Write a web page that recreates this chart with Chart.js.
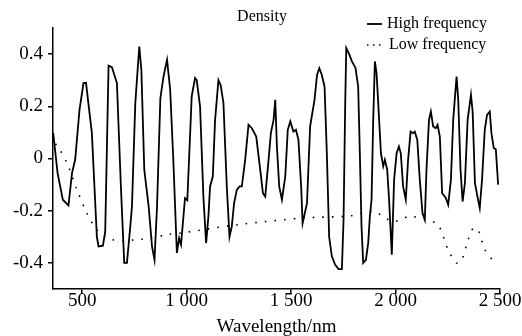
<!DOCTYPE html>
<html>
<head>
<meta charset="utf-8">
<title>Density</title>
<script src="https://cdn.jsdelivr.net/npm/chart.js@4.4.1/dist/chart.umd.min.js"></script>
<style>
  html, body { margin: 0; padding: 0; background: #fff; }
  canvas { display: block; }
</style>
</head>
<body>
<canvas id="myChart" width="522" height="336"></canvas>
<script>
// 데이터 ====================================
const chartTitle = "Density";
const xTitle = "Wavelength/nm";

// High frequency (wavelength / value)
const hfWave = [
  361, 382, 407, 434, 451, 466, 487, 506, 518, 546, 570, 578, 599, 610, 626, 642, 666, 685, 701, 714,
  730, 738, 754, 773, 783, 797, 818, 834, 846, 858, 874, 889, 906, 921, 936, 953, 964, 973, 992, 1003,
  1016, 1024, 1040, 1048, 1064, 1080, 1093, 1104, 1112, 1125, 1136, 1152, 1163, 1176, 1192, 1205, 1216, 1227, 1240, 1253,
  1264, 1280, 1296, 1312, 1333, 1352, 1365, 1376, 1392, 1403, 1416, 1424, 1432, 1443, 1456, 1472, 1484, 1496, 1511, 1523,
  1535, 1548, 1555, 1576, 1591, 1612, 1624, 1635, 1647, 1660, 1671, 1682, 1695, 1711, 1727, 1743, 1751, 1759, 1764, 1778,
  1791, 1808, 1821, 1829, 1837, 1845, 1858, 1869, 1877, 1885, 1893, 1901, 1909, 1917, 1930, 1941, 1949, 1960, 1969, 1982,
  1993, 2005, 2016, 2025, 2036, 2049, 2060, 2072, 2084, 2092, 2104, 2116, 2129, 2140, 2148, 2160, 2169, 2180, 2192, 2201,
  2212, 2223, 2240, 2252, 2265, 2276, 2292, 2300, 2311, 2321, 2332, 2345, 2361, 2369, 2380, 2392, 2403, 2414, 2427, 2438,
  2451, 2459, 2470, 2480, 2491
];
const hfValue = [
  0.097, -0.056, -0.158, -0.18, -0.056, -0.005, 0.187, 0.289, 0.29, 0.098, -0.30, -0.337, -0.334, -0.28, 0.356, 0.35, 0.289, -0.107, -0.40, -0.40,
  -0.26, -0.184, 0.212, 0.429, 0.34, -0.043, -0.184, -0.337, -0.388, -0.184, 0.231, 0.314, 0.378, 0.263, -0.005, -0.362, -0.305, -0.33, -0.152, -0.16,
  0.084, 0.238, 0.308, 0.30, 0.20, -0.146, -0.324, -0.222, -0.107, -0.069, 0.148, 0.30, 0.28, 0.212, -0.107, -0.30, -0.26, -0.171, -0.12, -0.107,
  -0.107, -0.005, 0.129, 0.116, 0.084, -0.043, -0.133, -0.146, -0.005, 0.097, 0.148, 0.225, 0.046, -0.107, -0.158, -0.069, 0.11, 0.142, 0.103, 0.11,
  0.072, -0.107, -0.248, -0.171, 0.123, 0.225, 0.32, 0.346, 0.32, 0.276, 0.02, -0.30, -0.375, -0.407, -0.424, -0.424, -0.235, 0.212, 0.423, 0.40,
  0.372, 0.348, 0.276, 0.02, -0.26, -0.40, -0.388, -0.324, -0.222, -0.158, 0.148, 0.372, 0.327, 0.212, 0.02, -0.03, -0.005, -0.043, -0.158, -0.369,
  -0.082, 0.02, 0.046, 0.02, -0.107, -0.158, -0.005, 0.103, 0.097, 0.103, 0.072, -0.082, -0.209, -0.235, -0.043, 0.148, 0.18, 0.123, 0.116, 0.129,
  0.084, -0.133, -0.15, -0.177, -0.082, 0.148, 0.314, 0.225, -0.043, -0.165, -0.094, 0.148, 0.244, 0.18, -0.094, -0.146, -0.19, -0.082, 0.11, 0.167,
  0.18, 0.097, 0.04, 0.035, -0.1
];

// Low frequency (wavelength / value)
const lfWave = [370, 379, 427, 475, 522, 570, 634, 778, 920, 968, 1240, 1558, 1781, 1893, 1988, 2068, 2148, 2204, 2252, 2292, 2316, 2348, 2372, 2396, 2428, 2476];
const lfValue = [0.055, 0.052, -0.018, -0.12, -0.209, -0.273, -0.31, -0.31, -0.29, -0.286, -0.254, -0.228, -0.22, -0.203, -0.241, -0.222, -0.235, -0.255, -0.35, -0.40, -0.39, -0.31, -0.267, -0.275, -0.35, -0.40];

// 축 눈금
const xTicks = [500, 1000, 1500, 2000, 2500];
const xTickLabels = ["500", "1 000", "1 500", "2 000", "2 500"];
const yTicks = [-0.4, -0.2, 0, 0.2, 0.4];
const yTickLabels = ["-0.4", "-0.2", "0", "0.2", "0.4"];

const serif = "'Liberation Serif', 'Times New Roman', serif";

function toPoints(xs, ys) {
  return xs.map(function (x, i) {
    return { x: x, y: ys[i] };
  });
}

// 제목 + 범례 (그림 안 오른쪽 위)
const titleLegend = {
  id: "titleLegend",
  afterDraw: function (chart) {
    let ctx = chart.ctx;
    ctx.save();
    ctx.fillStyle = "#000";
    ctx.font = "16px " + serif;
    ctx.textBaseline = "middle";
    ctx.textAlign = "center";
    ctx.fillText(chartTitle, 262, 17);

    ctx.textAlign = "left";
    chart.data.datasets.forEach(function (ds, i) {
      let y = 24 + i * 21;
      ctx.beginPath();
      ctx.strokeStyle = ds.borderColor;
      ctx.lineWidth = ds.borderWidth;
      ctx.setLineDash(ds.borderDash ? [1.5, 4.5] : []);
      ctx.moveTo(367, y);
      ctx.lineTo(382, y);
      ctx.stroke();
      ctx.setLineDash([]);
      ctx.fillText(ds.label, 387 + i * 2, y);
    });
    ctx.restore();
  },
};

function makechart(domId) {
  let chartArea = document.getElementById(domId).getContext("2d");
  let mychart = new Chart(chartArea, {
    type: "line",
    data: {
      datasets: [
        {
          label: "High frequency",
          data: toPoints(hfWave, hfValue),
          borderColor: "#000",
          borderWidth: 1.8,
          pointRadius: 0,
          tension: 0,
          fill: false,
        },
        {
          label: "Low frequency",
          data: toPoints(lfWave, lfValue),
          borderColor: "#000",
          borderWidth: 1.6,
          borderDash: [1.6, 8],
          pointRadius: 0,
          tension: 0.3,
          fill: false,
        },
      ],
    },
    options: {
      responsive: false,
      animation: false,
      layout: { padding: { top: 28, right: 22, left: 0, bottom: 0 } },
      plugins: {
        legend: { display: false },
        title: { display: false },
        tooltip: { enabled: false },
      },
      scales: {
        x: {
          type: "linear",
          min: 360,
          max: 2500,
          afterFit: function (scale) {
            scale.height = 47;
          },
          afterBuildTicks: function (scale) {
            scale.ticks = xTicks.map(function (v) { return { value: v }; });
          },
          border: { display: true, color: "#000", width: 1.5 },
          grid: { drawOnChartArea: false, drawTicks: true, tickLength: 5, color: "#000", lineWidth: 1.5 },
          ticks: {
            color: "#000",
            padding: -4.5,
            maxRotation: 0,
            autoSkip: false,
            font: { family: serif, size: 19 },
            callback: function (value) {
              return xTickLabels[xTicks.indexOf(value)];
            },
          },
          title: {
            display: true,
            text: xTitle,
            color: "#000",
            font: { family: serif, size: 19 },
            padding: { top: 0, bottom: -2.7 },
          },
        },
        y: {
          min: -0.5,
          max: 0.5,
          afterFit: function (scale) {
            scale.width = 53;
          },
          afterBuildTicks: function (scale) {
            scale.ticks = yTicks.map(function (v) { return { value: v }; });
          },
          border: { display: true, color: "#000", width: 1.5 },
          grid: { drawOnChartArea: false, drawTicks: true, tickLength: 5, color: "#000", lineWidth: 1.5 },
          ticks: {
            color: "#000",
            padding: 5,
            autoSkip: false,
            font: { family: serif, size: 19 },
            callback: function (value) {
              return yTickLabels[yTicks.indexOf(value)];
            },
          },
        },
      },
    },
    plugins: [titleLegend],
  });
  return mychart;
}

makechart("myChart");
</script>
</body>
</html>
